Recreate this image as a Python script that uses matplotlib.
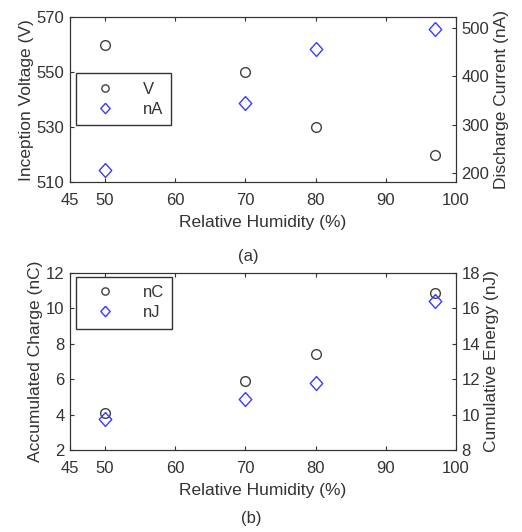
"""Humidity dependence of inception voltage, discharge current, charge and energy."""
import matplotlib.pyplot as plt

plt.rcParams.update({"font.family": ["Liberation Sans", "DejaVu Sans"], "font.size": 12,
                     "text.color": "#333333", "axes.edgecolor": "#333333",
                     "xtick.color": "#333333", "ytick.color": "#333333",
                     "axes.labelcolor": "#333333",
                     "xtick.direction": "in", "ytick.direction": "in"})

humidity = [50, 70, 80, 97]
voltage_v = [560, 550, 530, 520]
current_na = [206, 344, 457, 499]
charge_nc = [4.1, 5.9, 7.45, 10.85]
energy_nj = [9.75, 10.9, 11.8, 16.4]

x_ticks = [45, 50, 60, 70, 80, 90, 100]

CIRC = "#404040"
BLUE = "#3b3bff"
DIAMOND = [(0, 1), (0.9, 0), (0, -1), (-0.9, 0), (0, 1)]

fig = plt.figure(figsize=(5.22, 5.32), dpi=100)


def panel(rect, left_y, right_y, left_lim, right_lim, left_ticks, right_ticks,
          left_label, right_label, names, leg_anchor):
    ax = fig.add_axes(rect)
    ax.set_xlim(45, 100)
    ax.set_xticks(x_ticks)
    ax.set_ylim(*left_lim)
    ax.set_yticks(left_ticks)
    ax.tick_params(axis="x", top=True, length=3, width=0.8, pad=8)
    ax.tick_params(axis="y", length=3, width=0.8, pad=4)
    ax.set_xlabel("Relative Humidity (%)", fontsize=12.5, labelpad=5)
    ax.set_ylabel(left_label, fontsize=12.5, labelpad=2)
    h1, = ax.plot(humidity, left_y, "o", ms=7, mfc="none", mec=CIRC, mew=1.0, label=names[0])

    ax2 = ax.twinx()
    ax2.set_ylim(*right_lim)
    ax2.set_yticks(right_ticks)
    ax2.tick_params(length=3, width=0.8, pad=4)
    ax2.set_ylabel(right_label, fontsize=12.5, labelpad=3)
    h2, = ax2.plot(humidity, right_y, marker=DIAMOND, ls="none", ms=10, mfc="none",
                   mec=BLUE, mew=1.0, label=names[1])

    leg = ax2.legend(handles=[h1, h2], loc="upper left", bbox_to_anchor=leg_anchor,
                     fancybox=False, edgecolor="#333333", framealpha=1,
                     markerscale=0.75, handletextpad=1.0, borderpad=0.5,
                     labelspacing=0.3, handlelength=2.5, borderaxespad=0)
    leg.get_frame().set_linewidth(1.0)
    return ax


panel([0.1341, 0.6573, 0.7395, 0.3102], voltage_v, current_na,
      (510, 570), (180, 523), [510, 530, 550, 570], [200, 300, 400, 500],
      "Inception Voltage (V)", "Discharge Current (nA)", ["V", "nA"], (0.0155, 0.661))

panel([0.1341, 0.1536, 0.7395, 0.3338], charge_nc, energy_nj,
      (2, 12), (8, 18), [2, 4, 6, 8, 10, 12], [8, 10, 12, 14, 16, 18],
      "Accumulated Charge (nC)", "Cumulative Energy (nJ)", ["nC", "nJ"], (0.0155, 0.976))

fig.text(248 / 522, 1 - 257 / 532, "(a)", ha="center", va="center")
fig.text(251 / 522, 1 - 518 / 532, "(b)", ha="center", va="center")

fig.savefig("out.png", dpi=100)
